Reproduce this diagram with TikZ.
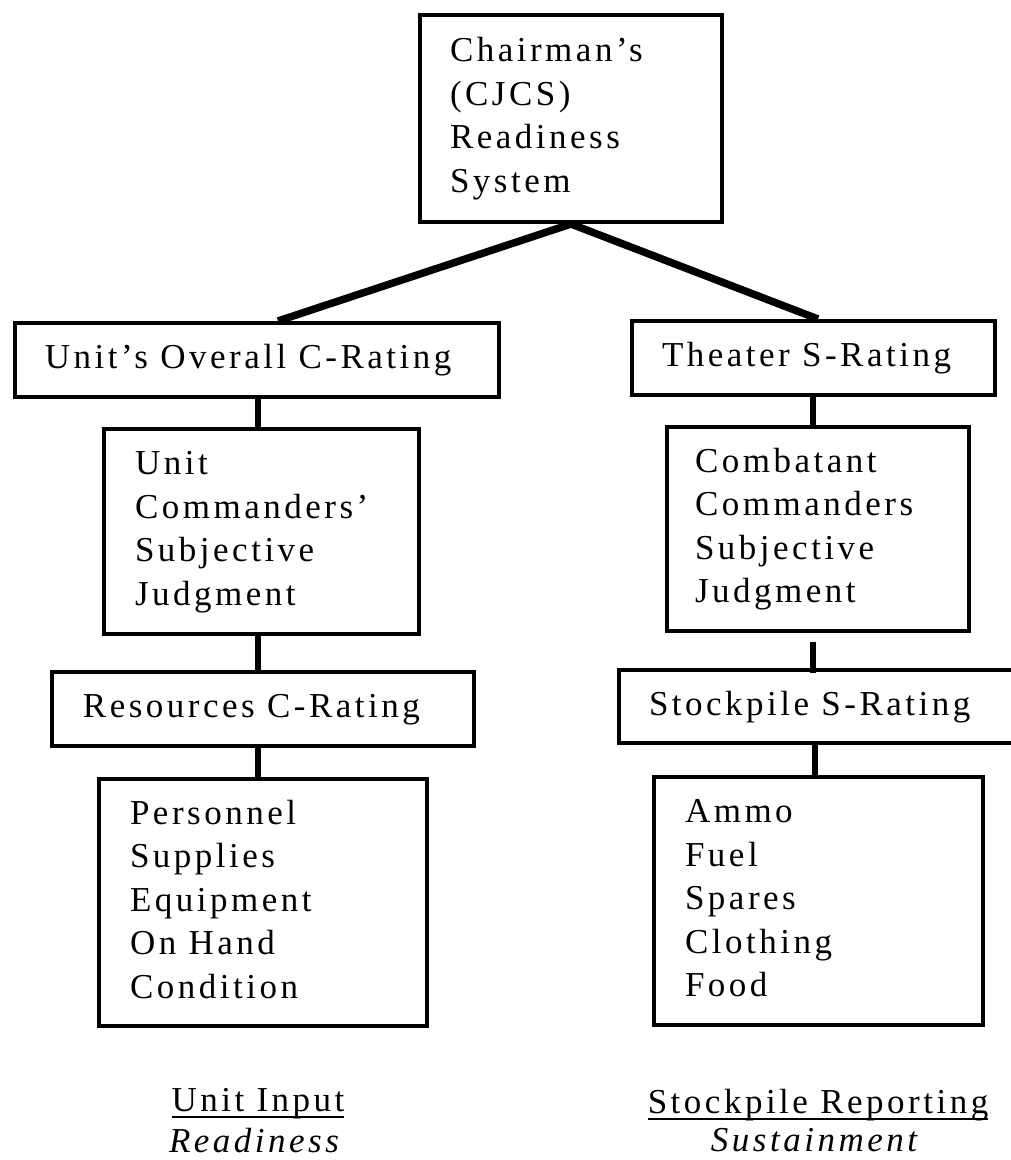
\documentclass[tikz,border=0pt]{standalone}
\usepackage{fontspec}
\setmainfont{Liberation Serif}[LetterSpace=10]
\usetikzlibrary{calc}
\newcommand\bxt[3]{\makebox[#1pt][l]{\hspace*{#2pt}\begin{tabular}{@{}l@{}}#3\end{tabular}}}
\newcommand\ulined[1]{\setbox0\hbox{#1}\rlap{\rule[-6.5pt]{\wd0}{1.8pt}}\box0}
\begin{document}
\begin{tikzpicture}[x=1pt,y=-1pt,
  box/.style={draw, line width=4pt, rectangle, anchor=north west, inner sep=0pt,
    font=\fontsize{35}{43.5}\selectfont},
  lbl/.style={inner sep=0pt, anchor=base, font=\fontsize{35}{43.5}\selectfont},
  conn/.style={line width=6pt},
  diag/.style={line width=7.5pt}]
\useasboundingbox (0,0) rectangle (1010,1160);
\coordinate (L) at (258,0);
\coordinate (R) at (813,0);
\coordinate (R2) at (815,0);
% boxes
\node[box, minimum height=207pt] (top) at (418,13)
  {\bxt{302}{30}{Chairman’s\\(CJCS)\\Readiness\\System}};
\node[box, minimum height=74pt] (unit) at (13,321)
  {\bxt{484}{30}{Unit’s Overall C-Rating}};
\node[box, minimum height=74pt] (theater) at (630,319)
  {\bxt{363}{30}{Theater S-Rating}};
\node[box, minimum height=205pt] (ucomm) at (102,427)
  {\bxt{315}{31}{Unit\\Commanders’\\Subjective\\Judgment}};
\node[box, minimum height=204pt] (ccomm) at (665,425)
  {\bxt{302}{28}{Combatant\\Commanders\\Subjective\\Judgment}};
\node[box, minimum height=74pt] (res) at (50,670)
  {\bxt{422}{31}{Resources C-Rating}};
\node[box, minimum height=73pt] (stock) at (617,668)
  {\bxt{410}{30}{Stockpile S-Rating}};
\node[box, minimum height=247pt] (pers) at (97,777)
  {\bxt{328}{31}{Personnel\\Supplies\\Equipment\\On Hand\\Condition}};
\node[box, minimum height=248pt] (ammo) at (652,775)
  {\bxt{329}{31}{Ammo\\Fuel\\Spares\\Clothing\\Food}};
% bottom labels
\node[lbl] (ui) at (258,1111) {\ulined{Unit Input}};
\node[lbl] (rd) at (254,1152) {\itshape Readiness};
\node[lbl] (sr) at (818,1113) {\ulined{Stockpile Reporting}};
\node[lbl] (su) at (814,1151) {\itshape Sustainment};
% connectors
\draw[diag] (top.south) -- ($(unit.north west)+(265,0)$);
\draw[diag] (top.south) -- ($(theater.north west)+(188,0)$);
\draw[conn] (unit.south -| L) -- (ucomm.north -| L);
\draw[conn] (ucomm.south -| L) -- (res.north -| L);
\draw[conn] (res.south -| L) -- (pers.north -| L);
\draw[conn] (theater.south -| R) -- (ccomm.north -| R);
\draw[conn] ($(ccomm.south -| R)+(0,9)$) -- ($(stock.north -| R)+(0,5)$);
\draw[conn] (stock.south -| R2) -- (ammo.north -| R2);
\end{tikzpicture}
\end{document}
